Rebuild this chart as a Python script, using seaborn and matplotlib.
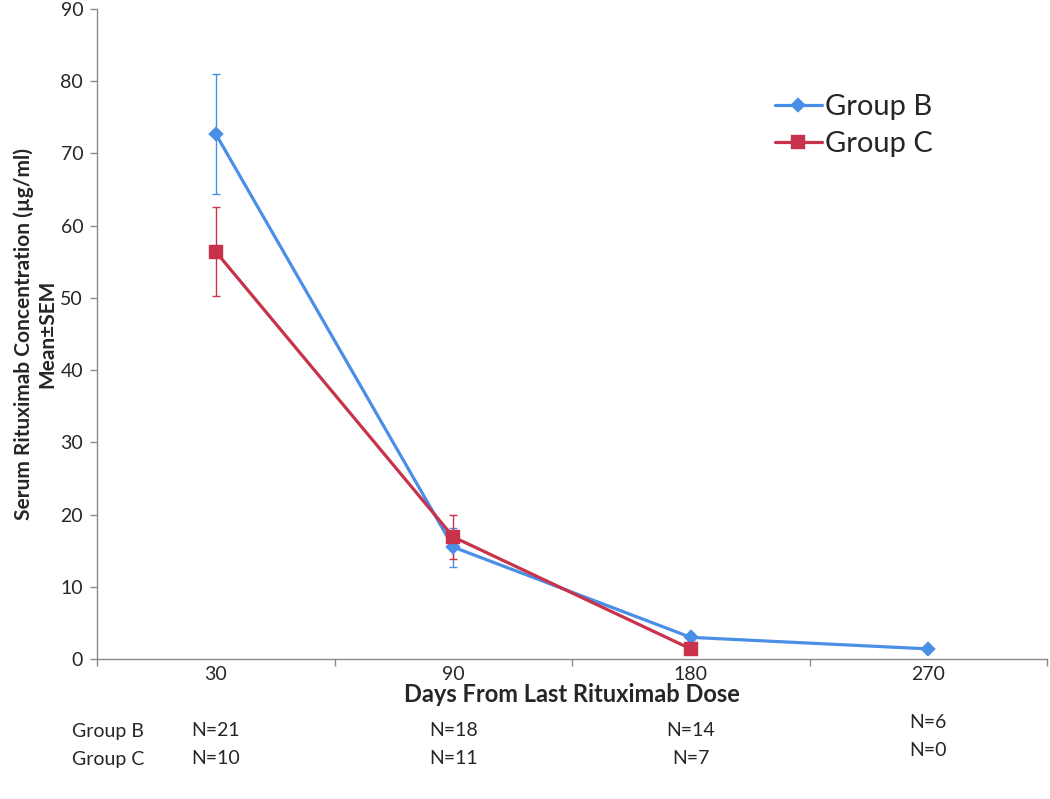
import numpy as np
import pandas as pd
import matplotlib
matplotlib.use("Agg")
import matplotlib.pyplot as plt
import seaborn as sns

days = ["30", "90", "180", "270"]
group_b_mean = [72.7, 15.5, 3.0, 1.4]
group_b_sem = [8.3, 2.7, 0.4, 0.2]
group_c_mean = [56.4, 16.9, 1.4]
group_c_sem = [6.2, 3.1, 0.0]
n_b = ["N=21", "N=18", "N=14", "N=6"]
n_c = ["N=10", "N=11", "N=7", "N=0"]

blue = "#4A8FE6"
red = "#C8324A"

data = pd.concat([
    pd.DataFrame({"Days": days, "Conc": group_b_mean, "SEM": group_b_sem, "Group": "Group B"}),
    pd.DataFrame({"Days": days[:3], "Conc": group_c_mean, "SEM": group_c_sem, "Group": "Group C"}),
])

sns.set_style("white")
plt.rcParams["font.family"] = ["Lato", "DejaVu Sans"]

fig = plt.figure(figsize=(10.5, 7.99), dpi=100)
ax = fig.add_axes([0.0924, 0.1752, 0.9048, 0.8135])

sns.pointplot(data=data, x="Days", y="Conc", hue="Group", order=days,
              hue_order=["Group B", "Group C"], palette=[blue, red],
              markers=["D", "s"], linestyles=["-", "-"], errorbar=None,
              markersize=7, linewidth=2.3, ax=ax)

# error bars (mean +/- SEM)
for grp, col in [("Group B", blue), ("Group C", red)]:
    sub = data[data["Group"] == grp]
    xpos = [days.index(d) for d in sub["Days"]]
    ax.errorbar(xpos, sub["Conc"], yerr=sub["SEM"], fmt="none", ecolor=col,
                elinewidth=1.0, capsize=3, capthick=1.0, zorder=1)

# marker sizes differ between groups like the original
for ln in ax.get_lines():
    if ln.get_marker() == "D":
        ln.set_markersize(6)
    elif ln.get_marker() == "s":
        ln.set_markersize(8.5)

ax.set_ylim(0, 90)
ax.set_xlim(-0.5, 3.5)
ax.set_yticks(range(0, 91, 10))
ax.set_xticks(range(len(days)))
ax.set_xticklabels(days)
ax.set_xticks(np.arange(-0.5, 3.6, 1.0), minor=True)
ax.tick_params(axis="x", which="major", length=0, pad=5, labelsize=14)
ax.tick_params(axis="x", which="minor", length=5, color="#8c8c8c", width=1, bottom=True)
ax.tick_params(axis="y", length=5, color="#8c8c8c", width=1, left=True, labelsize=14, pad=5)

for s in ["top", "right"]:
    ax.spines[s].set_visible(False)
for s in ["left", "bottom"]:
    ax.spines[s].set_color("#8c8c8c")
    ax.spines[s].set_linewidth(1)

ax.set_xlabel("Days From Last Rituximab Dose", fontsize=17, fontweight="bold", labelpad=0)
ax.set_ylabel("Serum Rituximab Concentration (µg/ml)\nMean±SEM", fontsize=15,
              fontweight="bold", labelpad=2, linespacing=1.25)

ax.legend(loc="upper left", bbox_to_anchor=(0.686, 0.91), frameon=False,
          fontsize=21, handlelength=1.6, handletextpad=0.1, labelspacing=0.4)

# N table under the axis
trans = ax.get_xaxis_transform()
fig.text(72 / 1050, 1 - 731 / 799, "Group B", fontsize=14, va="center")
fig.text(72 / 1050, 1 - 759 / 799, "Group C", fontsize=14, va="center")
for i in range(len(days)):
    yb = -0.110 if i < 3 else -0.098
    yc = -0.153 if i < 3 else -0.140
    ax.text(i, yb, n_b[i], transform=trans, ha="center", va="center", fontsize=14)
    ax.text(i, yc, n_c[i], transform=trans, ha="center", va="center", fontsize=14)

fig.savefig("out.png", dpi=100)
